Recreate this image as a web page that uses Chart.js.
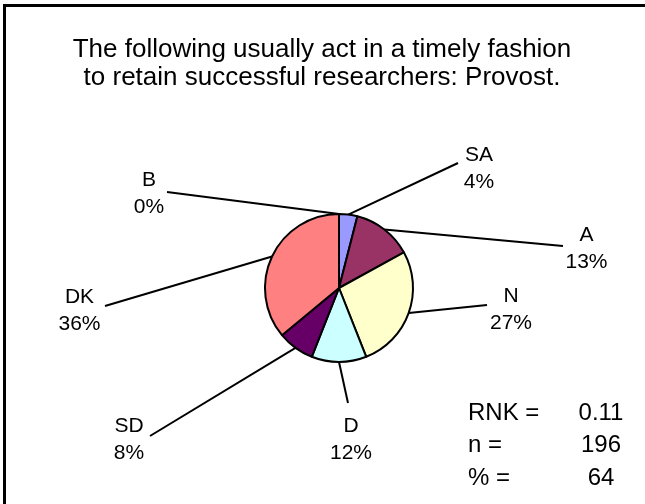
<!DOCTYPE html>
<html>
<head>
<meta charset="utf-8">
<script src="https://cdn.jsdelivr.net/npm/chart.js@4.4.1/dist/chart.umd.min.js"></script>
<style>
  html, body { margin: 0; padding: 0; background: #fff; overflow: hidden; }
  #frame { position: absolute; left: 3px; top: 4px; width: 700px; height: 560px; border: 3px solid #000; }
  canvas { position: absolute; left: 0; top: 0; }
  .txt { position: absolute; font-family: 'Liberation Sans', Arial, sans-serif; color: #000; white-space: nowrap; }
  #title { left: 0; top: 34px; width: 644px; text-align: center; font-size: 26px; line-height: 28px; }
  .stat { font-size: 24px; line-height: 32.5px; }
</style>
</head>
<body>
<div id="frame"></div>
<canvas id="myChart" width="645" height="504"></canvas>
<div id="title" class="txt">The following usually act in a timely fashion<br>to retain successful researchers: Provost.</div>
<div id="stats"></div>

<script>
'use strict';

// slices go clockwise from the top, same order as the picture
let categories = ['SA', 'A', 'N', 'D', 'SD', 'DK', 'B'];
let percents = [4, 13, 27, 12, 8, 36, 0];
let sliceColors = ['#9999FF', '#993366', '#FFFFCC', '#CCFFFF', '#660066', '#FF8080', '#0066CC'];

let statNames = ['RNK =', 'n =', '% ='];
let statValues = ['0.11', '196', '64'];

// where each leader line ends and where its label sits, relative to the pie centre
// lx/ly = end of line, tx/ty = label centre x / baseline of first line
let labelSpots = [
  { lx: 119, ly: -125, tx: 140, ty: -127 },
  { lx: 224, ly: -42, tx: 247.5, ty: -47 },
  { lx: 148, ly: 17, tx: 172, ty: 14 },
  { lx: 9, ly: 115, tx: 12, ty: 144 },
  { lx: -189, ly: 148, tx: -210, ty: 144 },
  { lx: -234, ly: 18, tx: -259.5, ty: 15 },
  { lx: -172, ly: -96, tx: -190, ty: -102 }
];

let statsBox = document.getElementById('stats');
for (let i = 0; i < statNames.length; i++) {
  let top = 395.5 + i * 32.5;
  let name = document.createElement('div');
  name.className = 'txt stat';
  name.style.left = '468px';
  name.style.top = top + 'px';
  name.textContent = statNames[i];
  statsBox.appendChild(name);

  let val = document.createElement('div');
  val.className = 'txt stat';
  val.style.left = '561px';
  val.style.width = '80px';
  val.style.textAlign = 'center';
  val.style.top = top + 'px';
  val.textContent = statValues[i];
  statsBox.appendChild(val);
}

const leaderLabels = {
  id: 'leaderLabels',
  afterDatasetsDraw(chart) {
    const ctx = chart.ctx;
    const meta = chart.getDatasetMeta(0);
    const total = percents.reduce((a, b) => a + b, 0);
    ctx.save();
    ctx.strokeStyle = '#000';
    ctx.lineWidth = 2;
    ctx.fillStyle = '#000';
    ctx.font = '21px "Liberation Sans", Arial, sans-serif';
    ctx.textAlign = 'center';
    ctx.textBaseline = 'alphabetic';
    meta.data.forEach((arc, i) => {
      const mid = (arc.startAngle + arc.endAngle) / 2;
      const x0 = arc.x + Math.cos(mid) * arc.outerRadius;
      const y0 = arc.y + Math.sin(mid) * arc.outerRadius;
      const spot = labelSpots[i];
      ctx.beginPath();
      ctx.moveTo(x0, y0);
      ctx.lineTo(arc.x + spot.lx, arc.y + spot.ly);
      ctx.stroke();
      const pct = Math.round(percents[i] / total * 100) + '%';
      ctx.fillText(categories[i], arc.x + spot.tx, arc.y + spot.ty);
      ctx.fillText(pct, arc.x + spot.tx, arc.y + spot.ty + 27);
    });
    ctx.restore();
  }
};

const config = {
  type: 'pie',
  data: {
    labels: categories,
    datasets: [{
      data: percents,
      backgroundColor: sliceColors,
      borderColor: '#000',
      borderWidth: 2
    }]
  },
  options: {
    responsive: false,
    animation: false,
    events: [],
    layout: {
      padding: { left: 264, right: 231, top: 213, bottom: 141 }
    },
    plugins: {
      legend: { display: false },
      tooltip: { enabled: false },
      title: { display: false }
    }
  },
  plugins: [leaderLabels]
};

const myChart = new Chart(document.getElementById('myChart'), config);
</script>
</body>
</html>
